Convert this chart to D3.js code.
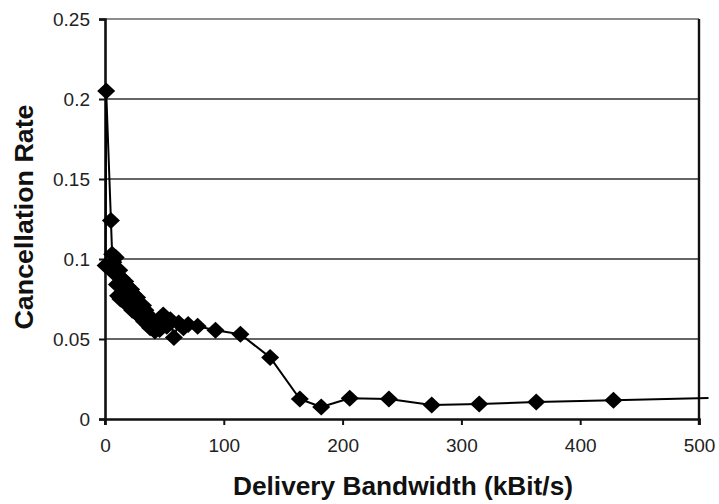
<!DOCTYPE html>
<html>
<head>
<meta charset="utf-8">
<script src="https://cdn.jsdelivr.net/npm/d3@7"></script>
<style>
  body { margin: 0; background: #fff; }
  svg { display: block; font-family: "Liberation Sans", Arial, sans-serif; }
</style>
</head>
<body>
<div id="chart"></div>
<script>
// bandwidth (kBit/s) and cancellation rate
var bandwidth = [0.5, 1, 5, 6, 7, 8, 9, 10, 11, 12, 13, 14, 15, 16, 17, 18, 19, 20,
  21, 22, 23, 24, 25, 26, 27, 28, 29, 30, 31, 32, 33, 34, 35, 36, 37, 38, 40, 42,
  44, 46, 49, 52, 55, 58, 62, 66, 70, 78, 93, 114, 139, 164, 182, 206, 239, 275,
  315, 363, 428, 508];
var cancelRate = [0.096, 0.205, 0.124, 0.103, 0.098, 0.091, 0.101, 0.084, 0.077,
  0.093, 0.075, 0.088, 0.082, 0.074, 0.086, 0.072, 0.083, 0.079, 0.070, 0.081,
  0.068, 0.078, 0.074, 0.067, 0.076, 0.065, 0.072, 0.070, 0.063, 0.071, 0.061,
  0.068, 0.066, 0.059, 0.064, 0.057, 0.062, 0.055, 0.060, 0.056, 0.065, 0.058,
  0.062, 0.051, 0.060, 0.057, 0.059, 0.058, 0.0555, 0.053, 0.0385, 0.0125,
  0.0075, 0.013, 0.0125, 0.0088, 0.0094, 0.0106, 0.0117, 0.0132];
// last point only continues the line, no marker drawn there
var hasMarker = bandwidth.map(function (d) { return d <= 500; });

var xTicks = [0, 100, 200, 300, 400, 500];
var yTicks = [0, 0.05, 0.1, 0.15, 0.2, 0.25];
var yLabels = ["0", "0.05", "0.1", "0.15", "0.2", "0.25"];

var width = 719, height = 504;
var margin = {top: 19, right: 20, bottom: 85, left: 105};

var svg = d3.select("#chart").append("svg")
    .attr("width", width)
    .attr("height", height);

var x = d3.scaleLinear().domain([0, 500]).range([margin.left, width - margin.right]);
var y = d3.scaleLinear().domain([0, 0.25]).range([height - margin.bottom, margin.top]);

var points = bandwidth.map(function (b, i) {
    return {x: b, y: cancelRate[i], marker: hasMarker[i]};
});

// gridlines
svg.append("g")
    .selectAll("line")
    .data(yTicks.slice(1, 5))
    .enter().append("line")
    .attr("x1", x(0)).attr("x2", x(500))
    .attr("y1", function (d) { return y(d); })
    .attr("y2", function (d) { return y(d); })
    .attr("stroke", "#333")
    .attr("stroke-width", 1.4);

// top border
svg.append("line")
    .attr("x1", x(0)).attr("x2", x(500))
    .attr("y1", y(0.25)).attr("y2", y(0.25))
    .attr("stroke", "#666")
    .attr("stroke-width", 1.6);

// right border
svg.append("line")
    .attr("x1", x(500)).attr("x2", x(500))
    .attr("y1", y(0.25)).attr("y2", y(0) + 6)
    .attr("stroke", "#111")
    .attr("stroke-width", 2.4);

// axes
var xAxis = svg.append("g")
    .attr("transform", "translate(0," + y(0) + ")")
    .call(d3.axisBottom(x).tickValues(xTicks).tickSize(6).tickPadding(14));
var yAxis = svg.append("g")
    .attr("transform", "translate(" + x(0) + ",0)")
    .call(d3.axisLeft(y).tickValues(yTicks).tickSize(6).tickPadding(9)
        .tickFormat(function (d, i) { return yLabels[i]; }));

[xAxis, yAxis].forEach(function (g) {
    g.select(".domain").attr("stroke", "#111").attr("stroke-width", 2.6);
    g.selectAll(".tick line").attr("stroke", "#111").attr("stroke-width", 2);
    g.selectAll(".tick text")
        .attr("fill", "#222")
        .style("font-size", "19px")
        .style("font-family", "'Liberation Sans', Arial, sans-serif");
});
// 0 tick on the x axis crosses the left axis
yAxis.append("line")
    .attr("x1", 0).attr("x2", 0)
    .attr("y1", y(0)).attr("y2", y(0) + 6)
    .attr("stroke", "#111").attr("stroke-width", 2);
yAxis.selectAll(".tick text").attr("dy", "0.36em");

// data line
var line = d3.line()
    .x(function (d) { return x(d.x); })
    .y(function (d) { return y(d.y); });

svg.append("path")
    .datum(points)
    .attr("d", line)
    .attr("fill", "none")
    .attr("stroke", "#000")
    .attr("stroke-width", 2)
    .attr("stroke-linejoin", "round");

// diamond markers
svg.append("g")
    .selectAll("path")
    .data(points.filter(function (d) { return d.marker; }))
    .enter().append("path")
    .attr("d", "M0,-8.5L9,0L0,8.5L-9,0Z")
    .attr("transform", function (d) { return "translate(" + x(d.x) + "," + y(d.y) + ")"; })
    .attr("fill", "#000");

// axis titles
svg.append("text")
    .attr("x", 403)
    .attr("y", 495)
    .attr("text-anchor", "middle")
    .attr("textLength", 340)
    .attr("lengthAdjust", "spacingAndGlyphs")
    .style("font-size", "25px")
    .style("font-weight", "bold")
    .attr("fill", "#111")
    .text("Delivery Bandwidth (kBit/s)");

svg.append("text")
    .attr("transform", "translate(33,217) rotate(-90)")
    .attr("text-anchor", "middle")
    .attr("textLength", 225)
    .attr("lengthAdjust", "spacingAndGlyphs")
    .style("font-size", "26px")
    .style("font-weight", "bold")
    .attr("fill", "#111")
    .text("Cancellation Rate");
</script>
</body>
</html>
